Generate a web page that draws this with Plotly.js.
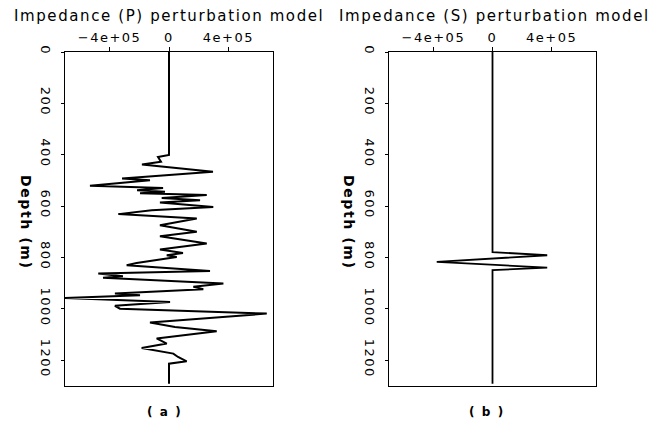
<!DOCTYPE html>
<html>
<head>
<meta charset="utf-8">
<script src="https://cdn.plot.ly/plotly-3.0.1.min.js"></script>
<style>
  html, body { margin: 0; padding: 0; background: #fff; }
  #chart { width: 660px; height: 422px; }
  .xtick text, .x2tick text, .ytick text, .y2tick text { letter-spacing: 1.5px; }
  .annotation-text { letter-spacing: 1.6px; }
</style>
</head>
<body>
<div id="chart"></div>
<script>
// Panel (a): P impedance perturbation vs depth
const depthP = [0, 401, 409, 421, 427, 438, 466, 492, 499, 521, 529, 538, 544, 550, 557, 568, 577, 586, 603, 616, 631, 648, 674, 700, 717, 745, 769, 782, 791, 798, 821, 830, 852, 862, 873, 879, 884, 901, 914, 923, 940, 947, 957, 973, 988, 999, 1018, 1053, 1070, 1087, 1115, 1135, 1152, 1174, 1187, 1204, 1213, 1291];
const impP = [0, 0, -74000, -60000, -54000, -182000, 296000, -316000, -128000, -532000, -40000, -215000, -27000, -195000, 254000, -49000, 209000, -61000, 298000, -117000, -341000, 187000, -61000, 187000, -61000, 254000, -61000, 94000, -15000, 52000, -218000, -285000, 276000, -476000, -310000, -444000, -242000, 366000, 164000, 231000, -364000, -195000, -700000, 7000, -364000, -330000, 658000, -128000, 40000, 321000, -83000, -15000, -184000, 29000, 61000, 119000, 0, 0];

// Panel (b): S impedance perturbation vs depth
const depthS = [0, 779, 791, 817, 839, 849, 1291];
const impS = [0, 0, 370000, -377000, 370000, 0, 0];

// Axis ticks
const xTickVals = [-400000, 0, 400000];
const xTickText = ['\u22124e+05', '0', '4e+05'];
const yTickVals = [0, 200, 400, 600, 800, 1000, 1200];
const yTickText = ['0', '200', '400', '600', '800', '1000', '1200'];

// Text
const titleP = 'Impedance (P) perturbation model';
const titleS = 'Impedance (S) perturbation model';
const yLabel = 'Depth (m)';
const capA = '( a )';
const capB = '( b )';

const W = 660, H = 422;
const fx = px => px / W;
const fy = py => 1 - py / H;

const font = 'DejaVu Sans, Verdana, sans-serif';

const traces = [
  { x: impP, y: depthP, xaxis: 'x', yaxis: 'y', type: 'scatter', mode: 'lines',
    line: { color: '#000', width: 2 }, hoverinfo: 'skip' },
  { x: impS, y: depthS, xaxis: 'x2', yaxis: 'y2', type: 'scatter', mode: 'lines',
    line: { color: '#000', width: 1.8 }, hoverinfo: 'skip' }
];

function xAx(domain, anchor) {
  return {
    domain: domain, anchor: anchor, side: 'top', range: [-700000, 700000],
    tickmode: 'array', tickvals: xTickVals, ticktext: xTickText,
    ticks: 'outside', ticklen: 4, tickwidth: 1, tickcolor: '#000',
    showline: true, mirror: true, linecolor: '#000', linewidth: 1,
    showgrid: false, zeroline: false, ticklabelstandoff: 0,
    tickfont: { family: font, size: 13, color: '#000' }
  };
}
function yAx(anchor) {
  return {
    domain: [fy(386), fy(52)], anchor: anchor, range: [1300, 0],
    tickmode: 'array', tickvals: yTickVals, ticktext: yTickText, tickangle: 90,
    ticks: 'outside', ticklen: 3, tickwidth: 1, tickcolor: '#000',
    showline: true, mirror: true, linecolor: '#000', linewidth: 1,
    showgrid: false, zeroline: false, ticklabelstandoff: 4,
    tickfont: { family: font, size: 13, color: '#000' }
  };
}

const ann = (text, px, py, opts) => Object.assign({
  text: text, xref: 'paper', yref: 'paper', x: fx(px), y: fy(py),
  xanchor: 'center', yanchor: 'middle', showarrow: false,
  font: { family: font, size: 14, color: '#000' }
}, opts || {});

const layout = {
  width: W, height: H,
  margin: { l: 0, r: 0, t: 0, b: 0 },
  paper_bgcolor: '#fff', plot_bgcolor: '#fff',
  showlegend: false,
  xaxis: xAx([fx(65), fx(273)], 'y'),
  yaxis: yAx('x'),
  xaxis2: xAx([fx(389), fx(596)], 'y2'),
  yaxis2: yAx('x2'),
  annotations: [
    ann(titleP, 169, 16, { font: { family: font, size: 15, color: '#000' } }),
    ann(titleS, 494, 16, { font: { family: font, size: 15, color: '#000' } }),
    ann(yLabel, 26, 222, { textangle: 90, font: { family: font, size: 14, color: '#000', weight: 'bold' } }),
    ann(yLabel, 349, 222, { textangle: 90, font: { family: font, size: 14, color: '#000', weight: 'bold' } }),
    ann(capA, 164, 412, { font: { family: font, size: 12, color: '#000', weight: 'bold' } }),
    ann(capB, 487, 412, { font: { family: font, size: 12, color: '#000', weight: 'bold' } })
  ]
};

Plotly.newPlot('chart', traces, layout, { staticPlot: true, displayModeBar: false });
</script>
</body>
</html>
